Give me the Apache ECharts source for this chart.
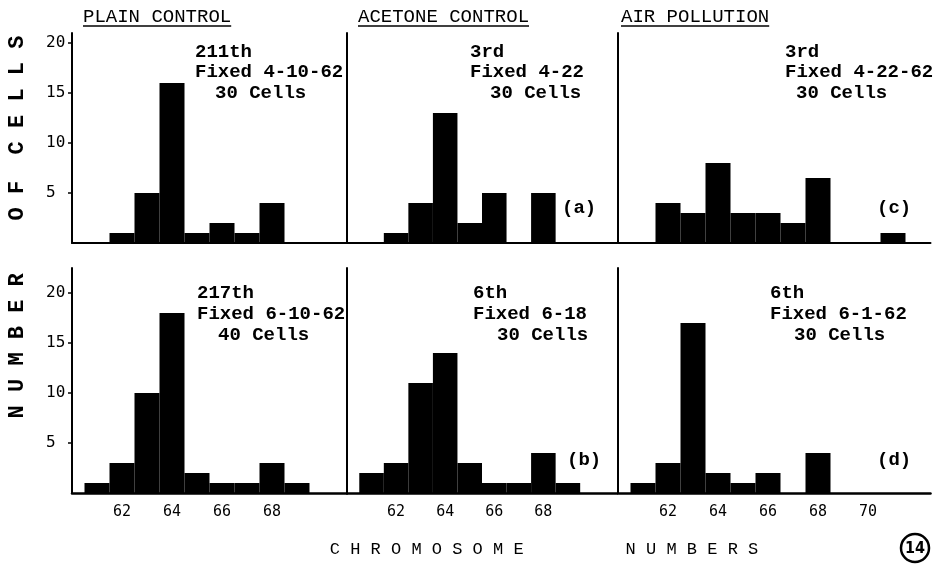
<!DOCTYPE html>
<html>
<head>
<meta charset="utf-8">
<script src="https://cdn.jsdelivr.net/npm/echarts@6/dist/echarts.min.js"></script>
<style>html,body{margin:0;padding:0;background:#fff;}#chart{width:936px;height:565px;}</style>
</head>
<body>
<div id="chart"></div>
<script>
// ---- data ----
const plainTopX = [62, 63, 64, 65, 66, 67, 68];
const plainTopY = [1, 5, 16, 1, 2, 1, 4];
const acetoneTopX = [62, 63, 64, 65, 66, 68];
const acetoneTopY = [1, 4, 13, 2, 5, 5];
const airTopX = [62, 63, 64, 65, 66, 67, 68, 71];
const airTopY = [4, 3, 8, 3, 3, 2, 6.5, 1];
const plainBotX = [61, 62, 63, 64, 65, 66, 67, 68, 69];
const plainBotY = [1, 3, 10, 18, 2, 1, 1, 3, 1];
const acetoneBotX = [61, 62, 63, 64, 65, 66, 67, 68, 69];
const acetoneBotY = [2, 3, 11, 14, 3, 1, 1, 4, 1];
const airBotX = [61, 62, 63, 64, 65, 66, 68];
const airBotY = [1, 3, 17, 2, 1, 2, 4];

const xTicksPlain = [62, 64, 66, 68];
const xTicksAcetone = [62, 64, 66, 68];
const xTicksAir = [62, 64, 66, 68, 70];
const yTicks = [5, 10, 15, 20];

const panelTitles = ['PLAIN CONTROL', 'ACETONE CONTROL', 'AIR POLLUTION'];
const notesTop = [['211th', 'Fixed 4-10-62', '30 Cells'], ['3rd', 'Fixed 4-22', '30 Cells'], ['3rd', 'Fixed 4-22-62', '30 Cells']];
const notesBot = [['217th', 'Fixed 6-10-62', '40 Cells'], ['6th', 'Fixed 6-18', '30 Cells'], ['6th', 'Fixed 6-1-62', '30 Cells']];
const tags = ['(a)', '(b)', '(c)', '(d)'];
const yTitle = 'N U M B E R    O F  C E L L S';
const xTitle = 'C H R O M O S O M E          N U M B E R S';
const figNo = '14';

// ---- layout ----
const cols = [
  {left: 72, width: 275, min: 60, max: 71},
  {left: 347, width: 270, min: 60, max: 71},
  {left: 618, width: 312.5, min: 60, max: 72.5}
];
const rows = [
  {top: 33, height: 210, max: 21},
  {top: 268, height: 225, max: 22.5}
];
const panels = [
  [plainTopX, plainTopY, xTicksPlain], [acetoneTopX, acetoneTopY, xTicksAcetone], [airTopX, airTopY, xTicksAir],
  [plainBotX, plainBotY, xTicksPlain], [acetoneBotX, acetoneBotY, xTicksAcetone], [airBotX, airBotY, xTicksAir]
];

const MONO = '"Liberation Mono", "DejaVu Sans Mono", monospace';
const NUMF = '"DejaVu Sans Mono", monospace';

function renderBar(params, api) {
  const x = api.value(0), y = api.value(1);
  const p0 = api.coord([x - 0.5, y]);
  const p1 = api.coord([x + 0.5, 0]);
  return {
    type: 'rect',
    shape: {x: p0[0], y: p0[1], width: p1[0] - p0[0], height: p1[1] - p0[1]},
    style: {fill: '#000'}
  };
}

const grid = [], xAxis = [], yAxis = [], series = [];
panels.forEach((p, i) => {
  const r = rows[Math.floor(i / 3)], c = cols[i % 3];
  const bottomRow = i >= 3, leftCol = (i % 3) === 0;
  grid.push({left: c.left, top: r.top, width: c.width, height: r.height});
  xAxis.push({
    type: 'value', gridIndex: i, min: c.min, max: c.max,
    axisLine: {show: true, lineStyle: {color: '#000', width: bottomRow ? 2.5 : 2}},
    axisTick: {show: false},
    splitLine: {show: false},
    axisLabel: bottomRow ? {show: true, customValues: p[2], color: '#000', fontFamily: NUMF, fontSize: 15, margin: 12} : {show: false}
  });
  yAxis.push({
    type: 'value', gridIndex: i, min: 0, max: r.max,
    axisLine: {show: true, lineStyle: {color: '#000', width: 2}},
    axisTick: leftCol ? {show: true, customValues: yTicks, length: 4, lineStyle: {color: '#000', width: 1.5}} : {show: false},
    splitLine: {show: false},
    axisLabel: leftCol ? {show: true, customValues: yTicks, align: 'left', margin: 26, color: '#000', fontFamily: NUMF, fontSize: 16} : {show: false}
  });
  series.push({
    type: 'custom', xAxisIndex: i, yAxisIndex: i,
    renderItem: renderBar,
    encode: {x: 0, y: 1},
    data: p[0].map((x, k) => [x, p[1][k]]),
    silent: true
  });
});

const graphic = [];
const txt = (x, y, s, size, extra) => ({
  type: 'text', x: x, y: y,
  style: Object.assign({text: s, fill: '#000', font: 'bold ' + size + 'px ' + MONO, textVerticalAlign: 'middle'}, extra || {})
});
// panel titles with underline
const titleX = [83, 358, 621];
panelTitles.forEach((t, k) => {
  graphic.push(txt(titleX[k], 17, t, 19, {font: '19px ' + MONO}));
  graphic.push({type: 'line', shape: {x1: titleX[k], y1: 26, x2: titleX[k] + t.length * 11.4, y2: 26}, style: {stroke: '#000', lineWidth: 1.5}});
});
// annotations
const noteTopPos = [[195, 195, 215], [470, 470, 490], [785, 785, 796]];
const noteBotPos = [[197, 197, 218], [473, 473, 497], [770, 770, 794]];
notesTop.forEach((n, k) => {
  n.forEach((line, j) => graphic.push(txt(noteTopPos[k][j], 52 + j * 20.5, line, 19)));
});
notesBot.forEach((n, k) => {
  n.forEach((line, j) => graphic.push(txt(noteBotPos[k][j], 293 + j * 21, line, 19)));
});
graphic.push(txt(562, 208, tags[0], 19));
graphic.push(txt(567, 460, tags[1], 19));
graphic.push(txt(877, 208, tags[2], 19));
graphic.push(txt(877, 460, tags[3], 19));
// axis titles
graphic.push({type: 'text', x: 17, y: 227, rotation: Math.PI / 2,
  style: {text: yTitle, fill: '#000', font: 'bold 22px ' + MONO, textAlign: 'center', textVerticalAlign: 'middle'}});
graphic.push({type: 'text', x: 544, y: 549,
  style: {text: xTitle, fill: '#000', font: '17px ' + MONO, textAlign: 'center', textVerticalAlign: 'middle'}});
// circled figure number
graphic.push({type: 'circle', shape: {cx: 915, cy: 548, r: 14}, style: {fill: 'none', stroke: '#000', lineWidth: 2.5}});
graphic.push({type: 'text', x: 915, y: 549,
  style: {text: figNo, fill: '#000', font: 'bold 16px "Liberation Sans Narrow", "DejaVu Sans Condensed", sans-serif', textAlign: 'center', textVerticalAlign: 'middle'}});

const chart = echarts.init(document.getElementById('chart'), null, {renderer: 'canvas'});
chart.setOption({
  backgroundColor: '#fff',
  animation: false,
  grid: grid, xAxis: xAxis, yAxis: yAxis, series: series,
  graphic: graphic
});
</script>
</body>
</html>
